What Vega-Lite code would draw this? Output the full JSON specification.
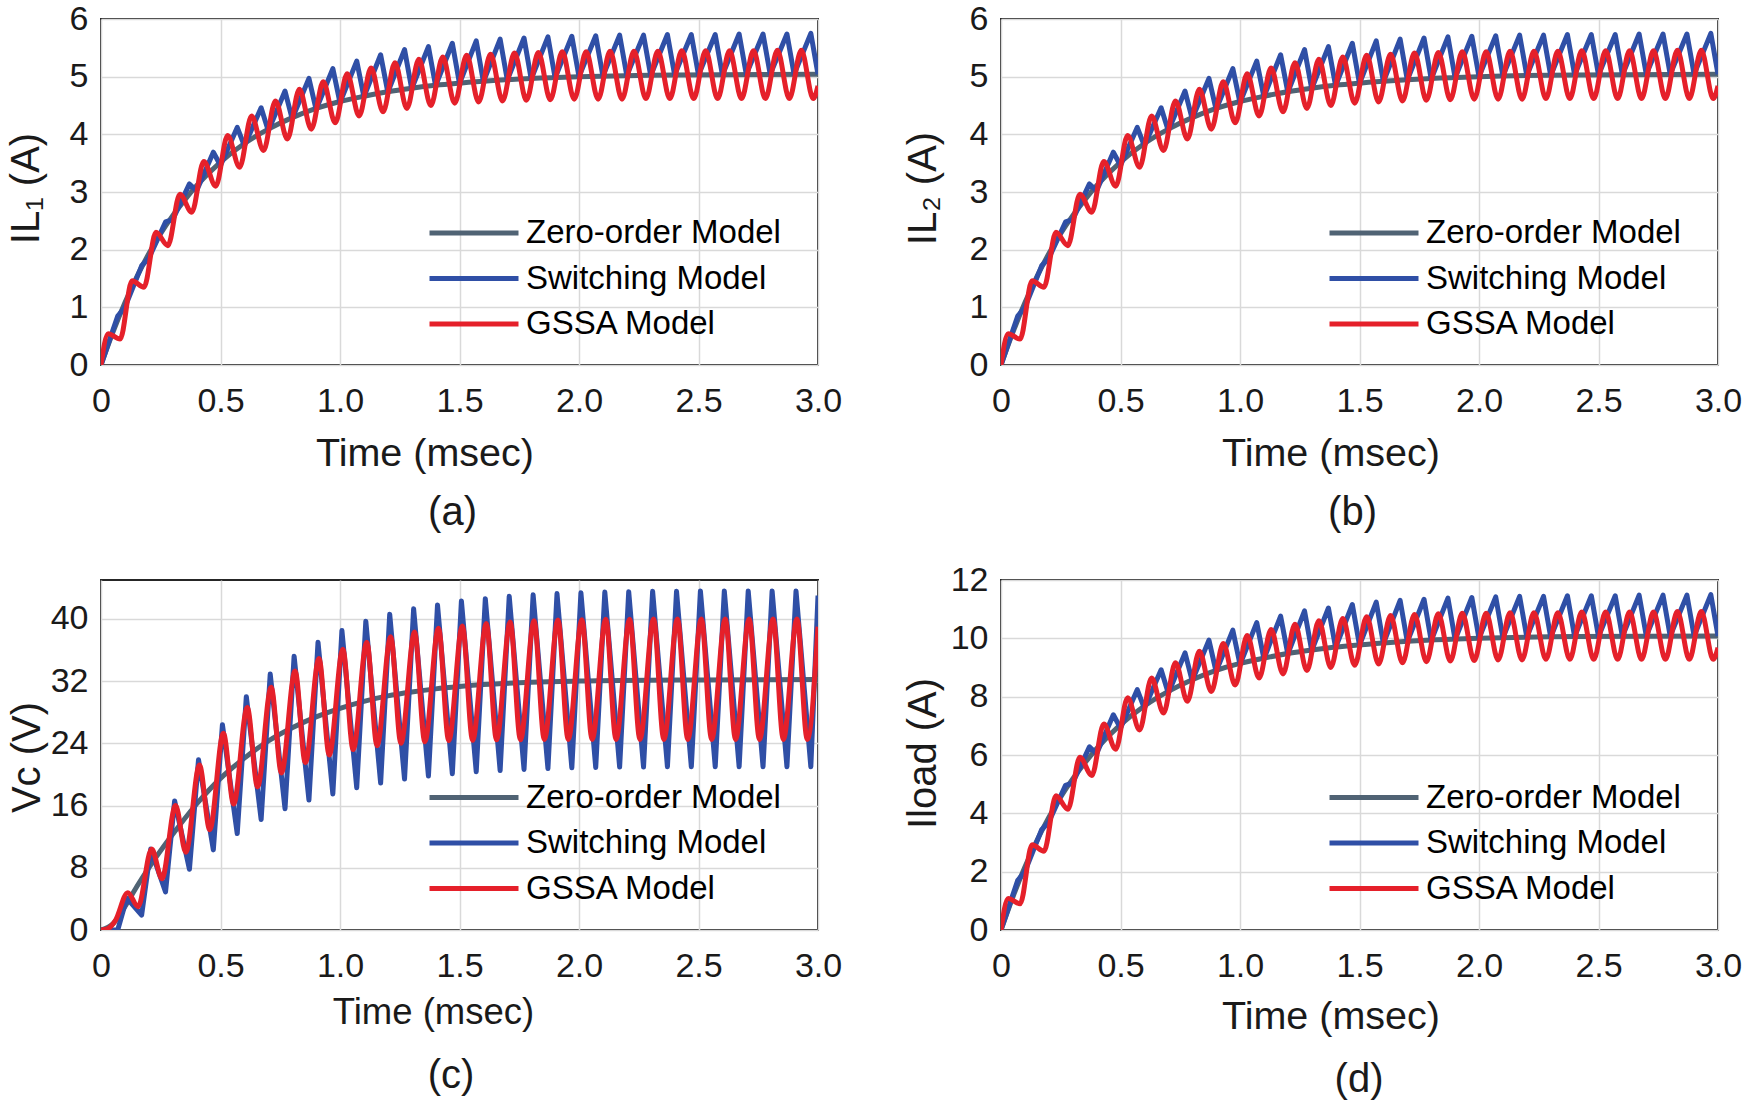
{
"$schema": "https://vega.github.io/schema/vega-lite/v6.json",
"background": "white",
"padding": {"left": 5, "top": 1, "right": 5, "bottom": 5},
"config": {
  "font": "Liberation Sans",
  "view": {"stroke": "#262626", "strokeWidth": 2},
  "axis": {"grid": true, "gridColor": "#d9d9d9", "gridWidth": 1.5, "domain": false, "ticks": false, "labelFontSize": 34, "labelColor": "#1a1a1a", "labelOverlap": false, "titleFontSize": 39.5, "titleFontWeight": "normal", "titleColor": "#1a1a1a"},
  "axisX": {"labelPadding": 19, "labelFlush": false, "titleAlign": "center", "titleBaseline": "alphabetic"},
  "axisY": {"labelPadding": 13, "titleAlign": "center", "titleBaseline": "alphabetic", "titleFontSize": 40, "format": "d"},
  "title": {"fontSize": 40, "fontWeight": "normal", "color": "#1a1a1a", "orient": "bottom", "frame": "group", "offset": 20}
},
"datasets": {
"za": [{"t":0,"v":0},{"t":0.05,"v":0.57},{"t":0.1,"v":1.08},{"t":0.15,"v":1.53},{"t":0.2,"v":1.93},{"t":0.25,"v":2.28},{"t":0.3,"v":2.59},{"t":0.35,"v":2.86},{"t":0.4,"v":3.11},{"t":0.5,"v":3.52},{"t":0.6,"v":3.84},{"t":0.7,"v":4.09},{"t":0.8,"v":4.29},{"t":0.9,"v":4.45},{"t":1.0,"v":4.57},{"t":1.1,"v":4.66},{"t":1.2,"v":4.74},{"t":1.3,"v":4.8},{"t":1.4,"v":4.85},{"t":1.6,"v":4.92},{"t":1.8,"v":4.97},{"t":2.0,"v":5.0},{"t":2.4,"v":5.03},{"t":3.0,"v":5.04}],
"sa": [{"t":0,"v":0},{"t":0.07,"v":0.85},{"t":0.1,"v":1.0},{"t":0.17,"v":1.72},{"t":0.2,"v":1.85},{"t":0.27,"v":2.48},{"t":0.3,"v":2.52},{"t":0.37,"v":3.14},{"t":0.4,"v":3.02},{"t":0.47,"v":3.69},{"t":0.5,"v":3.46},{"t":0.57,"v":4.12},{"t":0.6,"v":3.8},{"t":0.67,"v":4.46},{"t":0.7,"v":4.06},{"t":0.77,"v":4.75},{"t":0.8,"v":4.27},{"t":0.87,"v":4.97},{"t":0.9,"v":4.43},{"t":0.97,"v":5.14},{"t":1.0,"v":4.55},{"t":1.07,"v":5.27},{"t":1.1,"v":4.65},{"t":1.17,"v":5.38},{"t":1.2,"v":4.73},{"t":1.27,"v":5.47},{"t":1.3,"v":4.79},{"t":1.37,"v":5.52},{"t":1.4,"v":4.84},{"t":1.47,"v":5.58},{"t":1.5,"v":4.88},{"t":1.57,"v":5.62},{"t":1.6,"v":4.91},{"t":1.67,"v":5.65},{"t":1.7,"v":4.94},{"t":1.77,"v":5.67},{"t":1.8,"v":4.96},{"t":1.87,"v":5.69},{"t":1.9,"v":4.98},{"t":1.97,"v":5.7},{"t":2.0,"v":5.0},{"t":2.07,"v":5.71},{"t":2.1,"v":5.01},{"t":2.17,"v":5.72},{"t":2.2,"v":5.02},{"t":2.27,"v":5.72},{"t":2.3,"v":5.02},{"t":2.37,"v":5.73},{"t":2.4,"v":5.03},{"t":2.47,"v":5.73},{"t":2.5,"v":5.03},{"t":2.57,"v":5.73},{"t":2.6,"v":5.03},{"t":2.67,"v":5.74},{"t":2.7,"v":5.04},{"t":2.77,"v":5.74},{"t":2.8,"v":5.04},{"t":2.87,"v":5.74},{"t":2.9,"v":5.04},{"t":2.97,"v":5.75},{"t":3.0,"v":5.04}],
"ga": [{"t":0,"v":0},{"t":0.03,"v":0.54},{"t":0.08,"v":0.45},{"t":0.13,"v":1.46},{"t":0.18,"v":1.35},{"t":0.23,"v":2.3},{"t":0.28,"v":2.07},{"t":0.33,"v":2.96},{"t":0.38,"v":2.65},{"t":0.43,"v":3.53},{"t":0.48,"v":3.1},{"t":0.53,"v":3.98},{"t":0.58,"v":3.43},{"t":0.63,"v":4.32},{"t":0.68,"v":3.72},{"t":0.73,"v":4.58},{"t":0.78,"v":3.92},{"t":0.83,"v":4.78},{"t":0.88,"v":4.09},{"t":0.93,"v":4.91},{"t":0.98,"v":4.2},{"t":1.03,"v":5.05},{"t":1.08,"v":4.32},{"t":1.13,"v":5.15},{"t":1.18,"v":4.39},{"t":1.23,"v":5.24},{"t":1.28,"v":4.45},{"t":1.33,"v":5.3},{"t":1.38,"v":4.5},{"t":1.43,"v":5.34},{"t":1.48,"v":4.54},{"t":1.53,"v":5.37},{"t":1.58,"v":4.56},{"t":1.63,"v":5.39},{"t":1.68,"v":4.58},{"t":1.73,"v":5.41},{"t":1.78,"v":4.59},{"t":1.83,"v":5.42},{"t":1.88,"v":4.6},{"t":1.93,"v":5.43},{"t":1.98,"v":4.61},{"t":2.03,"v":5.43},{"t":2.08,"v":4.61},{"t":2.13,"v":5.44},{"t":2.18,"v":4.61},{"t":2.23,"v":5.44},{"t":2.28,"v":4.62},{"t":2.33,"v":5.44},{"t":2.38,"v":4.62},{"t":2.43,"v":5.45},{"t":2.48,"v":4.62},{"t":2.53,"v":5.45},{"t":2.58,"v":4.62},{"t":2.63,"v":5.45},{"t":2.68,"v":4.62},{"t":2.73,"v":5.45},{"t":2.78,"v":4.62},{"t":2.83,"v":5.46},{"t":2.88,"v":4.62},{"t":2.93,"v":5.46},{"t":2.98,"v":4.62},{"t":3.0,"v":4.84}],
"zc": [{"t":0,"v":0},{"t":0.05,"v":0.8},{"t":0.1,"v":3.0},{"t":0.15,"v":5.6},{"t":0.2,"v":8.0},{"t":0.3,"v":12.3},{"t":0.4,"v":16.2},{"t":0.5,"v":19.5},{"t":0.6,"v":22.1},{"t":0.7,"v":24.3},{"t":0.8,"v":26.0},{"t":0.9,"v":27.4},{"t":1.0,"v":28.5},{"t":1.1,"v":29.4},{"t":1.2,"v":30.1},{"t":1.3,"v":30.6},{"t":1.4,"v":31.0},{"t":1.5,"v":31.3},{"t":1.6,"v":31.55},{"t":1.8,"v":31.85},{"t":2.0,"v":32.0},{"t":2.5,"v":32.15},{"t":3.0,"v":32.2}],
"sc": [{"t":0,"v":0},{"t":0.07,"v":0},{"t":0.108,"v":4.1},{"t":0.17,"v":1.9},{"t":0.208,"v":10.4},{"t":0.27,"v":4.9},{"t":0.308,"v":16.6},{"t":0.37,"v":7.8},{"t":0.408,"v":21.9},{"t":0.47,"v":10.3},{"t":0.508,"v":26.4},{"t":0.57,"v":12.4},{"t":0.608,"v":30.0},{"t":0.67,"v":14.2},{"t":0.708,"v":32.9},{"t":0.77,"v":15.6},{"t":0.808,"v":35.2},{"t":0.87,"v":16.7},{"t":0.908,"v":37.0},{"t":0.97,"v":17.5},{"t":1.008,"v":38.5},{"t":1.07,"v":18.3},{"t":1.108,"v":39.7},{"t":1.17,"v":18.9},{"t":1.208,"v":40.6},{"t":1.27,"v":19.4},{"t":1.308,"v":41.3},{"t":1.37,"v":19.8},{"t":1.408,"v":41.8},{"t":1.47,"v":20.1},{"t":1.508,"v":42.3},{"t":1.57,"v":20.35},{"t":1.608,"v":42.6},{"t":1.67,"v":20.5},{"t":1.708,"v":42.9},{"t":1.77,"v":20.65},{"t":1.808,"v":43.1},{"t":1.87,"v":20.75},{"t":1.908,"v":43.25},{"t":1.97,"v":20.85},{"t":2.008,"v":43.35},{"t":2.07,"v":20.9},{"t":2.108,"v":43.45},{"t":2.17,"v":20.95},{"t":2.208,"v":43.5},{"t":2.27,"v":20.95},{"t":2.308,"v":43.55},{"t":2.37,"v":21.0},{"t":2.408,"v":43.55},{"t":2.47,"v":21.0},{"t":2.508,"v":43.6},{"t":2.57,"v":21.0},{"t":2.608,"v":43.6},{"t":2.67,"v":21.0},{"t":2.708,"v":43.6},{"t":2.77,"v":21.0},{"t":2.808,"v":43.6},{"t":2.87,"v":21.0},{"t":2.908,"v":43.6},{"t":2.97,"v":21.0},{"t":3.0,"v":43.0}],
"gc": [{"t":0,"v":0},{"t":0.03,"v":0.2},{"t":0.06,"v":1.2},{"t":0.112,"v":4.8},{"t":0.155,"v":3.0},{"t":0.212,"v":10.4},{"t":0.255,"v":6.6},{"t":0.312,"v":16.0},{"t":0.355,"v":10.0},{"t":0.412,"v":21.2},{"t":0.455,"v":12.9},{"t":0.512,"v":25.3},{"t":0.555,"v":16.2},{"t":0.612,"v":28.6},{"t":0.655,"v":18.4},{"t":0.712,"v":31.2},{"t":0.755,"v":20.2},{"t":0.812,"v":33.3},{"t":0.855,"v":21.5},{"t":0.912,"v":34.9},{"t":0.955,"v":22.5},{"t":1.012,"v":36.1},{"t":1.055,"v":23.2},{"t":1.112,"v":37.0},{"t":1.155,"v":23.7},{"t":1.212,"v":37.7},{"t":1.255,"v":24.0},{"t":1.312,"v":38.3},{"t":1.355,"v":24.2},{"t":1.412,"v":38.8},{"t":1.455,"v":24.35},{"t":1.512,"v":39.1},{"t":1.555,"v":24.4},{"t":1.612,"v":39.4},{"t":1.655,"v":24.45},{"t":1.712,"v":39.6},{"t":1.755,"v":24.45},{"t":1.812,"v":39.75},{"t":1.855,"v":24.5},{"t":1.912,"v":39.85},{"t":1.955,"v":24.5},{"t":2.012,"v":39.9},{"t":2.055,"v":24.5},{"t":2.112,"v":39.95},{"t":2.155,"v":24.5},{"t":2.212,"v":39.95},{"t":2.255,"v":24.5},{"t":2.312,"v":40.0},{"t":2.355,"v":24.5},{"t":2.412,"v":40.0},{"t":2.455,"v":24.5},{"t":2.512,"v":40.0},{"t":2.555,"v":24.5},{"t":2.612,"v":40.0},{"t":2.655,"v":24.5},{"t":2.712,"v":40.0},{"t":2.755,"v":24.5},{"t":2.812,"v":40.0},{"t":2.855,"v":24.5},{"t":2.912,"v":40.0},{"t":2.955,"v":24.5},{"t":3.0,"v":39.0}],
"zd": [{"t":0,"v":0},{"t":0.05,"v":1.14},{"t":0.1,"v":2.16},{"t":0.15,"v":3.06},{"t":0.2,"v":3.86},{"t":0.25,"v":4.56},{"t":0.3,"v":5.18},{"t":0.35,"v":5.72},{"t":0.4,"v":6.22},{"t":0.5,"v":7.04},{"t":0.6,"v":7.68},{"t":0.7,"v":8.18},{"t":0.8,"v":8.58},{"t":0.9,"v":8.9},{"t":1.0,"v":9.14},{"t":1.1,"v":9.32},{"t":1.2,"v":9.48},{"t":1.3,"v":9.6},{"t":1.4,"v":9.7},{"t":1.6,"v":9.84},{"t":1.8,"v":9.94},{"t":2.0,"v":10.0},{"t":2.4,"v":10.06},{"t":3.0,"v":10.08}],
"sd": [{"t":0,"v":0},{"t":0.07,"v":1.7},{"t":0.1,"v":2.0},{"t":0.17,"v":3.44},{"t":0.2,"v":3.7},{"t":0.27,"v":4.96},{"t":0.3,"v":5.04},{"t":0.37,"v":6.28},{"t":0.4,"v":6.04},{"t":0.47,"v":7.38},{"t":0.5,"v":6.92},{"t":0.57,"v":8.24},{"t":0.6,"v":7.6},{"t":0.67,"v":8.92},{"t":0.7,"v":8.12},{"t":0.77,"v":9.5},{"t":0.8,"v":8.54},{"t":0.87,"v":9.94},{"t":0.9,"v":8.86},{"t":0.97,"v":10.28},{"t":1.0,"v":9.1},{"t":1.07,"v":10.54},{"t":1.1,"v":9.3},{"t":1.17,"v":10.76},{"t":1.2,"v":9.46},{"t":1.27,"v":10.94},{"t":1.3,"v":9.58},{"t":1.37,"v":11.04},{"t":1.4,"v":9.68},{"t":1.47,"v":11.16},{"t":1.5,"v":9.76},{"t":1.57,"v":11.24},{"t":1.6,"v":9.82},{"t":1.67,"v":11.3},{"t":1.7,"v":9.88},{"t":1.77,"v":11.34},{"t":1.8,"v":9.92},{"t":1.87,"v":11.38},{"t":1.9,"v":9.96},{"t":1.97,"v":11.4},{"t":2.0,"v":10.0},{"t":2.07,"v":11.42},{"t":2.1,"v":10.02},{"t":2.17,"v":11.44},{"t":2.2,"v":10.04},{"t":2.27,"v":11.44},{"t":2.3,"v":10.04},{"t":2.37,"v":11.46},{"t":2.4,"v":10.06},{"t":2.47,"v":11.46},{"t":2.5,"v":10.06},{"t":2.57,"v":11.46},{"t":2.6,"v":10.06},{"t":2.67,"v":11.48},{"t":2.7,"v":10.08},{"t":2.77,"v":11.48},{"t":2.8,"v":10.08},{"t":2.87,"v":11.48},{"t":2.9,"v":10.08},{"t":2.97,"v":11.5},{"t":3.0,"v":10.08}],
"gd": [{"t":0,"v":0},{"t":0.03,"v":1.08},{"t":0.08,"v":0.9},{"t":0.13,"v":2.92},{"t":0.18,"v":2.7},{"t":0.23,"v":4.6},{"t":0.28,"v":4.14},{"t":0.33,"v":5.92},{"t":0.38,"v":5.3},{"t":0.43,"v":7.06},{"t":0.48,"v":6.2},{"t":0.53,"v":7.96},{"t":0.58,"v":6.86},{"t":0.63,"v":8.64},{"t":0.68,"v":7.44},{"t":0.73,"v":9.16},{"t":0.78,"v":7.84},{"t":0.83,"v":9.56},{"t":0.88,"v":8.18},{"t":0.93,"v":9.82},{"t":0.98,"v":8.4},{"t":1.03,"v":10.1},{"t":1.08,"v":8.64},{"t":1.13,"v":10.3},{"t":1.18,"v":8.78},{"t":1.23,"v":10.48},{"t":1.28,"v":8.9},{"t":1.33,"v":10.6},{"t":1.38,"v":9.0},{"t":1.43,"v":10.68},{"t":1.48,"v":9.08},{"t":1.53,"v":10.74},{"t":1.58,"v":9.12},{"t":1.63,"v":10.78},{"t":1.68,"v":9.16},{"t":1.73,"v":10.82},{"t":1.78,"v":9.2},{"t":1.83,"v":10.84},{"t":1.88,"v":9.22},{"t":1.93,"v":10.86},{"t":1.98,"v":9.24},{"t":2.03,"v":10.86},{"t":2.08,"v":9.26},{"t":2.13,"v":10.88},{"t":2.18,"v":9.26},{"t":2.23,"v":10.88},{"t":2.28,"v":9.28},{"t":2.33,"v":10.88},{"t":2.38,"v":9.28},{"t":2.43,"v":10.9},{"t":2.48,"v":9.28},{"t":2.53,"v":10.9},{"t":2.58,"v":9.28},{"t":2.63,"v":10.9},{"t":2.68,"v":9.28},{"t":2.73,"v":10.9},{"t":2.78,"v":9.28},{"t":2.83,"v":10.92},{"t":2.88,"v":9.28},{"t":2.93,"v":10.92},{"t":2.98,"v":9.28},{"t":3.0,"v":9.68}]
},
"bounds": "flush",
"columns": 2,
"spacing": {"row": 215, "column": 183},
"resolve": {"scale": {"color": "independent", "x": "independent", "y": "independent"}},
"concat": [
{
 "width": 717, "height": 346,
 "title": {"text": "(a)", "dx": -7},
 "layer": [
  {"data": {"name": "za"}, "mark": {"type": "line", "interpolate": "monotone", "strokeWidth": 5, "strokeJoin": "round", "clip": true},
   "encoding": {
    "x": {"field": "t", "type": "quantitative", "scale": {"domain": [0, 3], "nice": false, "zero": false}, "axis": {"title": "Time (msec)", "values": [0, 0.5, 1, 1.5, 2, 2.5, 3], "labelExpr": "datum.value == 0 ? '0' : format(datum.value, '.1f')", "titleX": 323.5, "titleY": 100}},
    "y": {"field": "v", "type": "quantitative", "scale": {"domain": [0, 6], "nice": false}, "axis": {"title": "IL₁ (A)", "values": [0, 1, 2, 3, 4, 5, 6], "titleX": -63, "titleY": 169}},
    "color": {"datum": "Zero-order Model", "type": "nominal", "scale": {"domain": ["Zero-order Model", "Switching Model", "GSSA Model"], "range": ["#506374", "#2f4fa6", "#e5202a"]},
      "legend": {"title": null, "orient": "none", "legendX": 401, "legendY": 197.5, "symbolType": "M-8,0H0", "symbolSize": 495, "symbolStrokeWidth": 5, "labelFontSize": 33, "labelOffset": -9, "rowPadding": 11.5, "padding": 0, "labelColor": "#000000", "labelLimit": 0}}
   }},
  {"data": {"name": "sa"}, "mark": {"type": "line", "strokeWidth": 5, "strokeJoin": "round", "clip": true},
   "encoding": {"x": {"field": "t", "type": "quantitative"}, "y": {"field": "v", "type": "quantitative"}, "color": {"datum": "Switching Model", "type": "nominal"}}},
  {"data": {"name": "ga"}, "mark": {"type": "line", "interpolate": "monotone", "strokeWidth": 5, "strokeJoin": "round", "clip": true},
   "encoding": {"x": {"field": "t", "type": "quantitative"}, "y": {"field": "v", "type": "quantitative"}, "color": {"datum": "GSSA Model", "type": "nominal"}}}
 ]
},
{
 "width": 717, "height": 346,
 "title": {"text": "(b)", "dx": -7},
 "layer": [
  {"data": {"name": "za"}, "mark": {"type": "line", "interpolate": "monotone", "strokeWidth": 5, "strokeJoin": "round", "clip": true},
   "encoding": {
    "x": {"field": "t", "type": "quantitative", "scale": {"domain": [0, 3], "nice": false, "zero": false}, "axis": {"title": "Time (msec)", "values": [0, 0.5, 1, 1.5, 2, 2.5, 3], "labelExpr": "datum.value == 0 ? '0' : format(datum.value, '.1f')", "titleX": 329.5, "titleY": 100}},
    "y": {"field": "v", "type": "quantitative", "scale": {"domain": [0, 6], "nice": false}, "axis": {"title": "IL₂ (A)", "values": [0, 1, 2, 3, 4, 5, 6], "titleX": -66, "titleY": 169}},
    "color": {"datum": "Zero-order Model", "type": "nominal", "scale": {"domain": ["Zero-order Model", "Switching Model", "GSSA Model"], "range": ["#506374", "#2f4fa6", "#e5202a"]},
      "legend": {"title": null, "orient": "none", "legendX": 401, "legendY": 197.5, "symbolType": "M-8,0H0", "symbolSize": 495, "symbolStrokeWidth": 5, "labelFontSize": 33, "labelOffset": -9, "rowPadding": 11.5, "padding": 0, "labelColor": "#000000", "labelLimit": 0}}
   }},
  {"data": {"name": "sa"}, "mark": {"type": "line", "strokeWidth": 5, "strokeJoin": "round", "clip": true},
   "encoding": {"x": {"field": "t", "type": "quantitative"}, "y": {"field": "v", "type": "quantitative"}, "color": {"datum": "Switching Model", "type": "nominal"}}},
  {"data": {"name": "ga"}, "mark": {"type": "line", "interpolate": "monotone", "strokeWidth": 5, "strokeJoin": "round", "clip": true},
   "encoding": {"x": {"field": "t", "type": "quantitative"}, "y": {"field": "v", "type": "quantitative"}, "color": {"datum": "GSSA Model", "type": "nominal"}}}
 ]
},
{
 "width": 717, "height": 350,
 "title": {"text": "(c)", "dx": -8.5, "offset": 25},
 "layer": [
  {"data": {"name": "zc"}, "mark": {"type": "line", "interpolate": "monotone", "strokeWidth": 5, "strokeJoin": "round", "clip": true},
   "encoding": {
    "x": {"field": "t", "type": "quantitative", "scale": {"domain": [0, 3], "nice": false, "zero": false}, "axis": {"title": "Time (msec)", "values": [0, 0.5, 1, 1.5, 2, 2.5, 3], "labelExpr": "datum.value == 0 ? '0' : format(datum.value, '.1f')", "titleX": 332, "titleY": 93, "titleFontSize": 36.5}},
    "y": {"field": "v", "type": "quantitative", "scale": {"domain": [0, 45], "nice": false}, "axis": {"title": "Vc (V)", "values": [0, 8, 16, 24, 32, 40], "titleX": -62, "titleY": 177}},
    "color": {"datum": "Zero-order Model", "type": "nominal", "scale": {"domain": ["Zero-order Model", "Switching Model", "GSSA Model"], "range": ["#506374", "#2f4fa6", "#e5202a"]},
      "legend": {"title": null, "orient": "none", "legendX": 401, "legendY": 201, "symbolType": "M-8,0H0", "symbolSize": 495, "symbolStrokeWidth": 5, "labelFontSize": 33, "labelOffset": -9, "rowPadding": 11.5, "padding": 0, "labelColor": "#000000", "labelLimit": 0}}
   }},
  {"data": {"name": "sc"}, "mark": {"type": "line", "strokeWidth": 5, "strokeJoin": "round", "clip": true},
   "encoding": {"x": {"field": "t", "type": "quantitative"}, "y": {"field": "v", "type": "quantitative"}, "color": {"datum": "Switching Model", "type": "nominal"}}},
  {"data": {"name": "gc"}, "mark": {"type": "line", "interpolate": "monotone", "strokeWidth": 5, "strokeJoin": "round", "clip": true},
   "encoding": {"x": {"field": "t", "type": "quantitative"}, "y": {"field": "v", "type": "quantitative"}, "color": {"datum": "GSSA Model", "type": "nominal"}}}
 ]
},
{
 "width": 717, "height": 350,
 "title": {"text": "(d)", "dx": -0.5, "offset": 24},
 "layer": [
  {"data": {"name": "zd"}, "mark": {"type": "line", "interpolate": "monotone", "strokeWidth": 5, "strokeJoin": "round", "clip": true},
   "encoding": {
    "x": {"field": "t", "type": "quantitative", "scale": {"domain": [0, 3], "nice": false, "zero": false}, "axis": {"title": "Time (msec)", "values": [0, 0.5, 1, 1.5, 2, 2.5, 3], "labelExpr": "datum.value == 0 ? '0' : format(datum.value, '.1f')", "titleX": 329.5, "titleY": 98}},
    "y": {"field": "v", "type": "quantitative", "scale": {"domain": [0, 12], "nice": false}, "axis": {"title": "Iload (A)", "values": [0, 2, 4, 6, 8, 10, 12], "titleX": -66, "titleY": 173}},
    "color": {"datum": "Zero-order Model", "type": "nominal", "scale": {"domain": ["Zero-order Model", "\u00a0Switching Model", "GSSA Model"], "range": ["#506374", "#2f4fa6", "#e5202a"]},
      "legend": {"title": null, "orient": "none", "legendX": 401, "legendY": 201, "symbolType": "M-8,0H0", "symbolSize": 495, "symbolStrokeWidth": 5, "labelFontSize": 33, "labelOffset": -9, "rowPadding": 11.5, "padding": 0, "labelColor": "#000000", "labelLimit": 0}}
   }},
  {"data": {"name": "sd"}, "mark": {"type": "line", "strokeWidth": 5, "strokeJoin": "round", "clip": true},
   "encoding": {"x": {"field": "t", "type": "quantitative"}, "y": {"field": "v", "type": "quantitative"}, "color": {"datum": "\u00a0Switching Model", "type": "nominal"}}},
  {"data": {"name": "gd"}, "mark": {"type": "line", "interpolate": "monotone", "strokeWidth": 5, "strokeJoin": "round", "clip": true},
   "encoding": {"x": {"field": "t", "type": "quantitative"}, "y": {"field": "v", "type": "quantitative"}, "color": {"datum": "GSSA Model", "type": "nominal"}}}
 ]
}
]
}
